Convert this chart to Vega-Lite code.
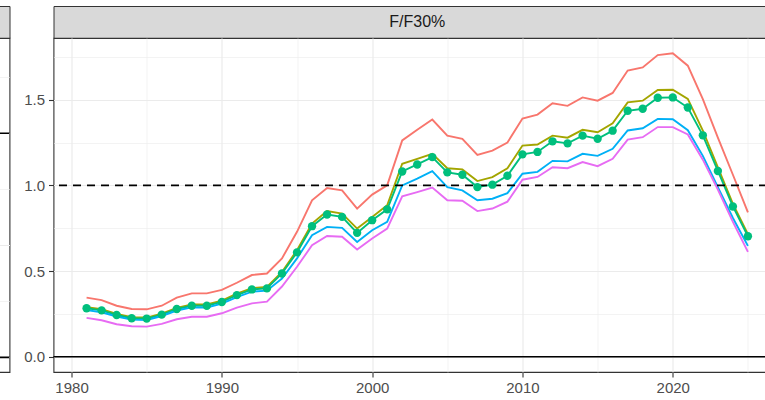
{
  "$schema": "https://vega.github.io/schema/vega-lite/v6.json",
  "padding": {"left": -42.5, "top": 5, "right": -14.5, "bottom": 0},
  "background": "white",
  "datasets": {
    "ff": [
      {"year":1981,"series":"s1","value":0.345},{"year":1981,"series":"s2","value":0.29},{"year":1981,"series":"s3","value":0.283},{"year":1981,"series":"s4","value":0.272},{"year":1981,"series":"s5","value":0.227},
      {"year":1982,"series":"s1","value":0.331},{"year":1982,"series":"s2","value":0.278},{"year":1982,"series":"s3","value":0.271},{"year":1982,"series":"s4","value":0.26},{"year":1982,"series":"s5","value":0.213},
      {"year":1983,"series":"s1","value":0.298},{"year":1983,"series":"s2","value":0.25},{"year":1983,"series":"s3","value":0.244},{"year":1983,"series":"s4","value":0.235},{"year":1983,"series":"s5","value":0.19},
      {"year":1984,"series":"s1","value":0.279},{"year":1984,"series":"s2","value":0.231},{"year":1984,"series":"s3","value":0.225},{"year":1984,"series":"s4","value":0.217},{"year":1984,"series":"s5","value":0.178},
      {"year":1985,"series":"s1","value":0.277},{"year":1985,"series":"s2","value":0.229},{"year":1985,"series":"s3","value":0.223},{"year":1985,"series":"s4","value":0.215},{"year":1985,"series":"s5","value":0.176},
      {"year":1986,"series":"s1","value":0.298},{"year":1986,"series":"s2","value":0.252},{"year":1986,"series":"s3","value":0.246},{"year":1986,"series":"s4","value":0.238},{"year":1986,"series":"s5","value":0.192},
      {"year":1987,"series":"s1","value":0.345},{"year":1987,"series":"s2","value":0.285},{"year":1987,"series":"s3","value":0.279},{"year":1987,"series":"s4","value":0.27},{"year":1987,"series":"s5","value":0.219},
      {"year":1988,"series":"s1","value":0.37},{"year":1988,"series":"s2","value":0.305},{"year":1988,"series":"s3","value":0.298},{"year":1988,"series":"s4","value":0.288},{"year":1988,"series":"s5","value":0.234},
      {"year":1989,"series":"s1","value":0.37},{"year":1989,"series":"s2","value":0.305},{"year":1989,"series":"s3","value":0.298},{"year":1989,"series":"s4","value":0.288},{"year":1989,"series":"s5","value":0.234},
      {"year":1990,"series":"s1","value":0.39},{"year":1990,"series":"s2","value":0.328},{"year":1990,"series":"s3","value":0.32},{"year":1990,"series":"s4","value":0.31},{"year":1990,"series":"s5","value":0.254},
      {"year":1991,"series":"s1","value":0.432},{"year":1991,"series":"s2","value":0.368},{"year":1991,"series":"s3","value":0.36},{"year":1991,"series":"s4","value":0.348},{"year":1991,"series":"s5","value":0.287},
      {"year":1992,"series":"s1","value":0.477},{"year":1992,"series":"s2","value":0.4},{"year":1992,"series":"s3","value":0.393},{"year":1992,"series":"s4","value":0.38},{"year":1992,"series":"s5","value":0.312},
      {"year":1993,"series":"s1","value":0.486},{"year":1993,"series":"s2","value":0.408},{"year":1993,"series":"s3","value":0.399},{"year":1993,"series":"s4","value":0.386},{"year":1993,"series":"s5","value":0.322},
      {"year":1994,"series":"s1","value":0.574},{"year":1994,"series":"s2","value":0.495},{"year":1994,"series":"s3","value":0.486},{"year":1994,"series":"s4","value":0.457},{"year":1994,"series":"s5","value":0.41},
      {"year":1995,"series":"s1","value":0.729},{"year":1995,"series":"s2","value":0.622},{"year":1995,"series":"s3","value":0.609},{"year":1995,"series":"s4","value":0.574},{"year":1995,"series":"s5","value":0.525},
      {"year":1996,"series":"s1","value":0.913},{"year":1996,"series":"s2","value":0.777},{"year":1996,"series":"s3","value":0.762},{"year":1996,"series":"s4","value":0.709},{"year":1996,"series":"s5","value":0.651},
      {"year":1997,"series":"s1","value":0.985},{"year":1997,"series":"s2","value":0.85},{"year":1997,"series":"s3","value":0.83},{"year":1997,"series":"s4","value":0.758},{"year":1997,"series":"s5","value":0.705},
      {"year":1998,"series":"s1","value":0.971},{"year":1998,"series":"s2","value":0.835},{"year":1998,"series":"s3","value":0.816},{"year":1998,"series":"s4","value":0.752},{"year":1998,"series":"s5","value":0.7},
      {"year":1999,"series":"s1","value":0.864},{"year":1999,"series":"s2","value":0.748},{"year":1999,"series":"s3","value":0.723},{"year":1999,"series":"s4","value":0.67},{"year":1999,"series":"s5","value":0.626},
      {"year":2000,"series":"s1","value":0.946},{"year":2000,"series":"s2","value":0.816},{"year":2000,"series":"s3","value":0.797},{"year":2000,"series":"s4","value":0.738},{"year":2000,"series":"s5","value":0.69},
      {"year":2001,"series":"s1","value":1.0},{"year":2001,"series":"s2","value":0.884},{"year":2001,"series":"s3","value":0.86},{"year":2001,"series":"s4","value":0.787},{"year":2001,"series":"s5","value":0.748},
      {"year":2002,"series":"s1","value":1.262},{"year":2002,"series":"s2","value":1.126},{"year":2002,"series":"s3","value":1.081},{"year":2002,"series":"s4","value":1.0},{"year":2002,"series":"s5","value":0.936},
      {"year":2003,"series":"s1","value":1.324},{"year":2003,"series":"s2","value":1.155},{"year":2003,"series":"s3","value":1.122},{"year":2003,"series":"s4","value":1.039},{"year":2003,"series":"s5","value":0.961},
      {"year":2004,"series":"s1","value":1.384},{"year":2004,"series":"s2","value":1.184},{"year":2004,"series":"s3","value":1.165},{"year":2004,"series":"s4","value":1.083},{"year":2004,"series":"s5","value":0.987},
      {"year":2005,"series":"s1","value":1.29},{"year":2005,"series":"s2","value":1.1},{"year":2005,"series":"s3","value":1.076},{"year":2005,"series":"s4","value":0.99},{"year":2005,"series":"s5","value":0.913},
      {"year":2006,"series":"s1","value":1.271},{"year":2006,"series":"s2","value":1.093},{"year":2006,"series":"s3","value":1.062},{"year":2006,"series":"s4","value":0.971},{"year":2006,"series":"s5","value":0.91},
      {"year":2007,"series":"s1","value":1.178},{"year":2007,"series":"s2","value":1.025},{"year":2007,"series":"s3","value":0.99},{"year":2007,"series":"s4","value":0.913},{"year":2007,"series":"s5","value":0.85},
      {"year":2008,"series":"s1","value":1.203},{"year":2008,"series":"s2","value":1.048},{"year":2008,"series":"s3","value":1.004},{"year":2008,"series":"s4","value":0.922},{"year":2008,"series":"s5","value":0.865},
      {"year":2009,"series":"s1","value":1.25},{"year":2009,"series":"s2","value":1.1},{"year":2009,"series":"s3","value":1.056},{"year":2009,"series":"s4","value":0.955},{"year":2009,"series":"s5","value":0.905},
      {"year":2010,"series":"s1","value":1.39},{"year":2010,"series":"s2","value":1.232},{"year":2010,"series":"s3","value":1.181},{"year":2010,"series":"s4","value":1.068},{"year":2010,"series":"s5","value":1.033},
      {"year":2011,"series":"s1","value":1.413},{"year":2011,"series":"s2","value":1.238},{"year":2011,"series":"s3","value":1.195},{"year":2011,"series":"s4","value":1.079},{"year":2011,"series":"s5","value":1.049},
      {"year":2012,"series":"s1","value":1.479},{"year":2012,"series":"s2","value":1.29},{"year":2012,"series":"s3","value":1.257},{"year":2012,"series":"s4","value":1.143},{"year":2012,"series":"s5","value":1.106},
      {"year":2013,"series":"s1","value":1.464},{"year":2013,"series":"s2","value":1.278},{"year":2013,"series":"s3","value":1.245},{"year":2013,"series":"s4","value":1.14},{"year":2013,"series":"s5","value":1.1},
      {"year":2014,"series":"s1","value":1.513},{"year":2014,"series":"s2","value":1.324},{"year":2014,"series":"s3","value":1.29},{"year":2014,"series":"s4","value":1.184},{"year":2014,"series":"s5","value":1.136},
      {"year":2015,"series":"s1","value":1.494},{"year":2015,"series":"s2","value":1.31},{"year":2015,"series":"s3","value":1.272},{"year":2015,"series":"s4","value":1.172},{"year":2015,"series":"s5","value":1.112},
      {"year":2016,"series":"s1","value":1.539},{"year":2016,"series":"s2","value":1.362},{"year":2016,"series":"s3","value":1.319},{"year":2016,"series":"s4","value":1.213},{"year":2016,"series":"s5","value":1.155},
      {"year":2017,"series":"s1","value":1.67},{"year":2017,"series":"s2","value":1.484},{"year":2017,"series":"s3","value":1.435},{"year":2017,"series":"s4","value":1.32},{"year":2017,"series":"s5","value":1.267},
      {"year":2018,"series":"s1","value":1.688},{"year":2018,"series":"s2","value":1.494},{"year":2018,"series":"s3","value":1.447},{"year":2018,"series":"s4","value":1.333},{"year":2018,"series":"s5","value":1.281},
      {"year":2019,"series":"s1","value":1.76},{"year":2019,"series":"s2","value":1.556},{"year":2019,"series":"s3","value":1.511},{"year":2019,"series":"s4","value":1.388},{"year":2019,"series":"s5","value":1.34},
      {"year":2020,"series":"s1","value":1.771},{"year":2020,"series":"s2","value":1.558},{"year":2020,"series":"s3","value":1.513},{"year":2020,"series":"s4","value":1.386},{"year":2020,"series":"s5","value":1.34},
      {"year":2021,"series":"s1","value":1.698},{"year":2021,"series":"s2","value":1.504},{"year":2021,"series":"s3","value":1.454},{"year":2021,"series":"s4","value":1.322},{"year":2021,"series":"s5","value":1.297},
      {"year":2022,"series":"s1","value":1.503},{"year":2022,"series":"s2","value":1.32},{"year":2022,"series":"s3","value":1.292},{"year":2022,"series":"s4","value":1.172},{"year":2022,"series":"s5","value":1.15},
      {"year":2023,"series":"s1","value":1.278},{"year":2023,"series":"s2","value":1.105},{"year":2023,"series":"s3","value":1.084},{"year":2023,"series":"s4","value":0.99},{"year":2023,"series":"s5","value":0.975},
      {"year":2024,"series":"s1","value":1.062},{"year":2024,"series":"s2","value":0.892},{"year":2024,"series":"s3","value":0.877},{"year":2024,"series":"s4","value":0.81},{"year":2024,"series":"s5","value":0.787},
      {"year":2025,"series":"s1","value":0.842},{"year":2025,"series":"s2","value":0.715},{"year":2025,"series":"s3","value":0.703},{"year":2025,"series":"s4","value":0.647},{"year":2025,"series":"s5","value":0.612}
    ]
  },
  "bounds": "flush",
  "align": "each",
  "columns": 2,
  "spacing": {"row": 0, "column": 44},
  "concat": [
    {
      "width": 50,
      "height": 32,
      "view": {"fill": "#D9D9D9", "stroke": "#333333"},
      "data": {"values": [{"label": ""}]},
      "mark": {"type": "text", "fontSize": 16, "color": "#1A1A1A"},
      "encoding": {"text": {"field": "label"}}
    },
    {
      "width": 727.5,
      "height": 32,
      "view": {"fill": "#D9D9D9", "stroke": "#333333"},
      "data": {"values": [{"label": "F/F30%"}]},
      "mark": {"type": "text", "fontSize": 16, "color": "#1A1A1A", "font": "Liberation Sans"},
      "encoding": {"text": {"field": "label"}}
    },
    {
      "width": 50,
      "height": 334,
      "data": {"values": [{"ref": 0}, {"ref": 2}]},
      "mark": {"type": "rule", "color": "black", "strokeWidth": 1.6},
      "encoding": {
        "y": {
          "field": "ref",
          "type": "quantitative",
          "scale": {"domain": [-0.131, 2.851], "nice": false, "zero": false},
          "axis": {
            "labels": false,
            "ticks": false,
            "domain": false,
            "grid": true,
            "values": [0, 0.5, 1, 1.5, 2, 2.5],
            "gridWidth": {"condition": {"test": "datum.value % 1 === 0", "value": 1.2}, "value": 0.6}
          }
        }
      }
    },
    {
      "width": 727.5,
      "height": 334,
      "layer": [
        {
          "data": {"name": "ff"},
          "mark": {"type": "line", "strokeWidth": 1.9},
          "encoding": {
            "x": {
              "field": "year",
              "type": "quantitative",
              "scale": {"domain": [1978.8, 2027.2], "nice": false, "zero": false},
              "axis": {
                "values": [1980, 1985, 1990, 1995, 2000, 2005, 2010, 2015, 2020, 2025],
                "format": "d",
                "labelExpr": "datum.value % 10 === 0 ? datum.label : ''",
                "tickOpacity": {"condition": {"test": "datum.value % 10 === 0", "value": 1}, "value": 0},
                "gridWidth": {"condition": {"test": "datum.value % 10 === 0", "value": 1.2}, "value": 0.6},
                "labelOverlap": false,
                "labelFlush": false,
                "labelPadding": 3
              }
            },
            "y": {
              "field": "value",
              "type": "quantitative",
              "scale": {"domain": [-0.0886, 1.8596], "nice": false, "zero": false},
              "axis": {
                "values": [0, 0.25, 0.5, 0.75, 1, 1.25, 1.5, 1.75],
                "format": ".1f",
                "labelExpr": "abs(datum.value * 2 - round(datum.value * 2)) < 0.001 ? datum.label : ''",
                "tickOpacity": {"condition": {"test": "abs(datum.value * 2 - round(datum.value * 2)) < 0.001", "value": 1}, "value": 0},
                "gridWidth": {"condition": {"test": "abs(datum.value * 2 - round(datum.value * 2)) < 0.001", "value": 1.2}, "value": 0.6},
                "labelOverlap": false,
                "labelFlush": false,
                "labelPadding": 4
              }
            },
            "color": {
              "field": "series",
              "type": "nominal",
              "scale": {"domain": ["s1", "s2", "s3", "s4", "s5"], "range": ["#F8766D", "#A3A500", "#00BF7D", "#00B0F6", "#E76BF3"]},
              "legend": null
            }
          }
        },
        {
          "data": {"values": [{"ref": 0}]},
          "mark": {"type": "rule", "color": "black", "strokeWidth": 1.6},
          "encoding": {"y": {"field": "ref", "type": "quantitative"}}
        },
        {
          "data": {"values": [{"ref": 1}]},
          "mark": {"type": "rule", "color": "black", "strokeWidth": 1.6, "strokeDash": [8, 6]},
          "encoding": {"y": {"field": "ref", "type": "quantitative"}}
        },
        {
          "data": {"name": "ff"},
          "transform": [{"filter": "datum.series === 's3'"}],
          "mark": {"type": "point", "filled": true, "opacity": 1, "size": 70, "color": "#00BF7D"},
          "encoding": {
            "x": {"field": "year", "type": "quantitative"},
            "y": {"field": "value", "type": "quantitative"}
          }
        }
      ]
    }
  ],
  "config": {
    "font": "Liberation Sans",
    "view": {"stroke": "#333333", "strokeWidth": 1.1},
    "axis": {
      "domain": false,
      "grid": true,
      "gridColor": "#EBEBEB",
      "tickColor": "#333333",
      "tickSize": 5,
      "tickWidth": 1.1,
      "labelFont": "Liberation Sans",
      "labelFontSize": 15,
      "labelColor": "#4D4D4D",
      "title": null
    }
  }
}
